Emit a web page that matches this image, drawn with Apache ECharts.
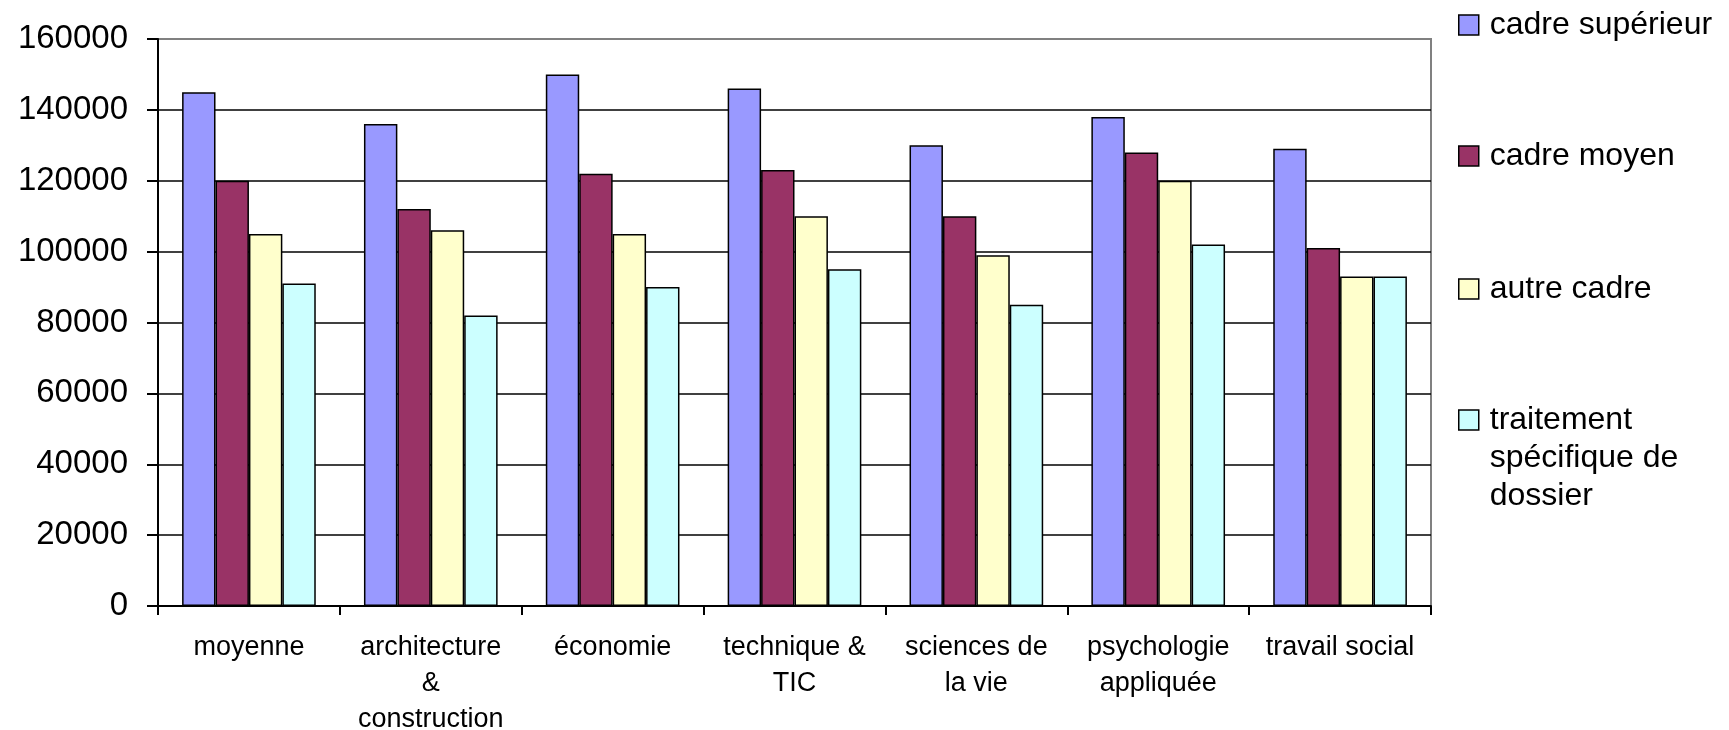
<!DOCTYPE html>
<html>
<head>
<meta charset="utf-8">
<script src="https://cdn.jsdelivr.net/npm/echarts@6/dist/echarts.min.js"></script>
<style>
html,body{margin:0;padding:0;background:#fff;}
#c{width:1729px;height:730px;}
</style>
</head>
<body>
<div id="c"></div>
<script>
var categories = ['moyenne', 'architecture\n&\nconstruction', 'économie', 'technique &\nTIC', 'sciences de\nla vie', 'psychologie\nappliquée', 'travail social'];
var seriesNames = ['cadre supérieur', 'cadre moyen', 'autre cadre', 'traitement\nspécifique de\ndossier'];
var cadreSuperieur = [145000, 136000, 150000, 146000, 130000, 138000, 129000];
var cadreMoyen = [120000, 112000, 122000, 123000, 110000, 128000, 101000];
var autreCadre = [105000, 106000, 105000, 110000, 99000, 120000, 93000];
var traitement = [91000, 82000, 90000, 95000, 85000, 102000, 93000];
var yTicks = {min: 0, max: 160000, interval: 20000};

var colors = ['#9999FF', '#993366', '#FFFFCC', '#CCFFFF'];
var values = [cadreSuperieur, cadreMoyen, autreCadre, traitement];
var font = '"Liberation Sans", Arial, sans-serif';

var chart = echarts.init(document.getElementById('c'), null, {renderer: 'canvas'});

function legendFor(i, top, multi) {
  var lg = {
    show: true,
    data: [seriesNames[i]],
    left: 1458,
    top: top,
    padding: 0,
    itemWidth: 20,
    itemHeight: 20,
    icon: 'rect',
    selectedMode: false,
    itemStyle: {borderColor: '#000', borderWidth: 1.5},
    textStyle: {
      fontFamily: font,
      fontSize: 32,
      color: '#000',
      lineHeight: 38,
      padding: [0, 0, 0, 6]
    }
  };
  if (multi) {
    lg.formatter = function (name) { return ' \n \n' + name; };
  }
  return lg;
}

var series = values.map(function (v, i) {
  return {
    name: seriesNames[i],
    type: 'bar',
    data: v,
    barGap: '0%',
    barCategoryGap: '26.5%',
    itemStyle: {color: colors[i], borderColor: '#000', borderWidth: 1.5},
    emphasis: {disabled: true},
    animation: false
  };
});

chart.setOption({
  animation: false,
  backgroundColor: '#fff',
  legend: [
    legendFor(0, 6, false),
    legendFor(1, 137, false),
    legendFor(2, 270, false),
    legendFor(3, 325, true)
  ],
  grid: {
    left: 158, right: 298, top: 39, bottom: 124,
    outerBoundsMode: 'none',
    containLabel: false,
    show: true, borderColor: '#808080', borderWidth: 2, backgroundColor: '#fff'
  },
  xAxis: {
    type: 'category',
    data: categories,
    axisLine: {lineStyle: {color: '#000', width: 2}},
    axisTick: {show: true, length: 9, lineStyle: {color: '#000', width: 2}},
    axisLabel: {
      interval: 0, margin: 24, color: '#000', fontFamily: font, fontSize: 27, lineHeight: 36
    },
    splitLine: {show: false}
  },
  yAxis: {
    type: 'value',
    min: yTicks.min, max: yTicks.max, interval: yTicks.interval,
    axisLine: {show: true, lineStyle: {color: '#000', width: 2}},
    axisTick: {show: true, length: 11, lineStyle: {color: '#000', width: 2}},
    axisLabel: {
      margin: 30, color: '#000', fontFamily: font, fontSize: 33,
      formatter: function (v) { return String(v); }
    },
    splitLine: {show: true, showMaxLine: false, showMinLine: false, lineStyle: {color: '#000', width: 1.5}}
  },
  series: series
});
</script>
</body>
</html>
